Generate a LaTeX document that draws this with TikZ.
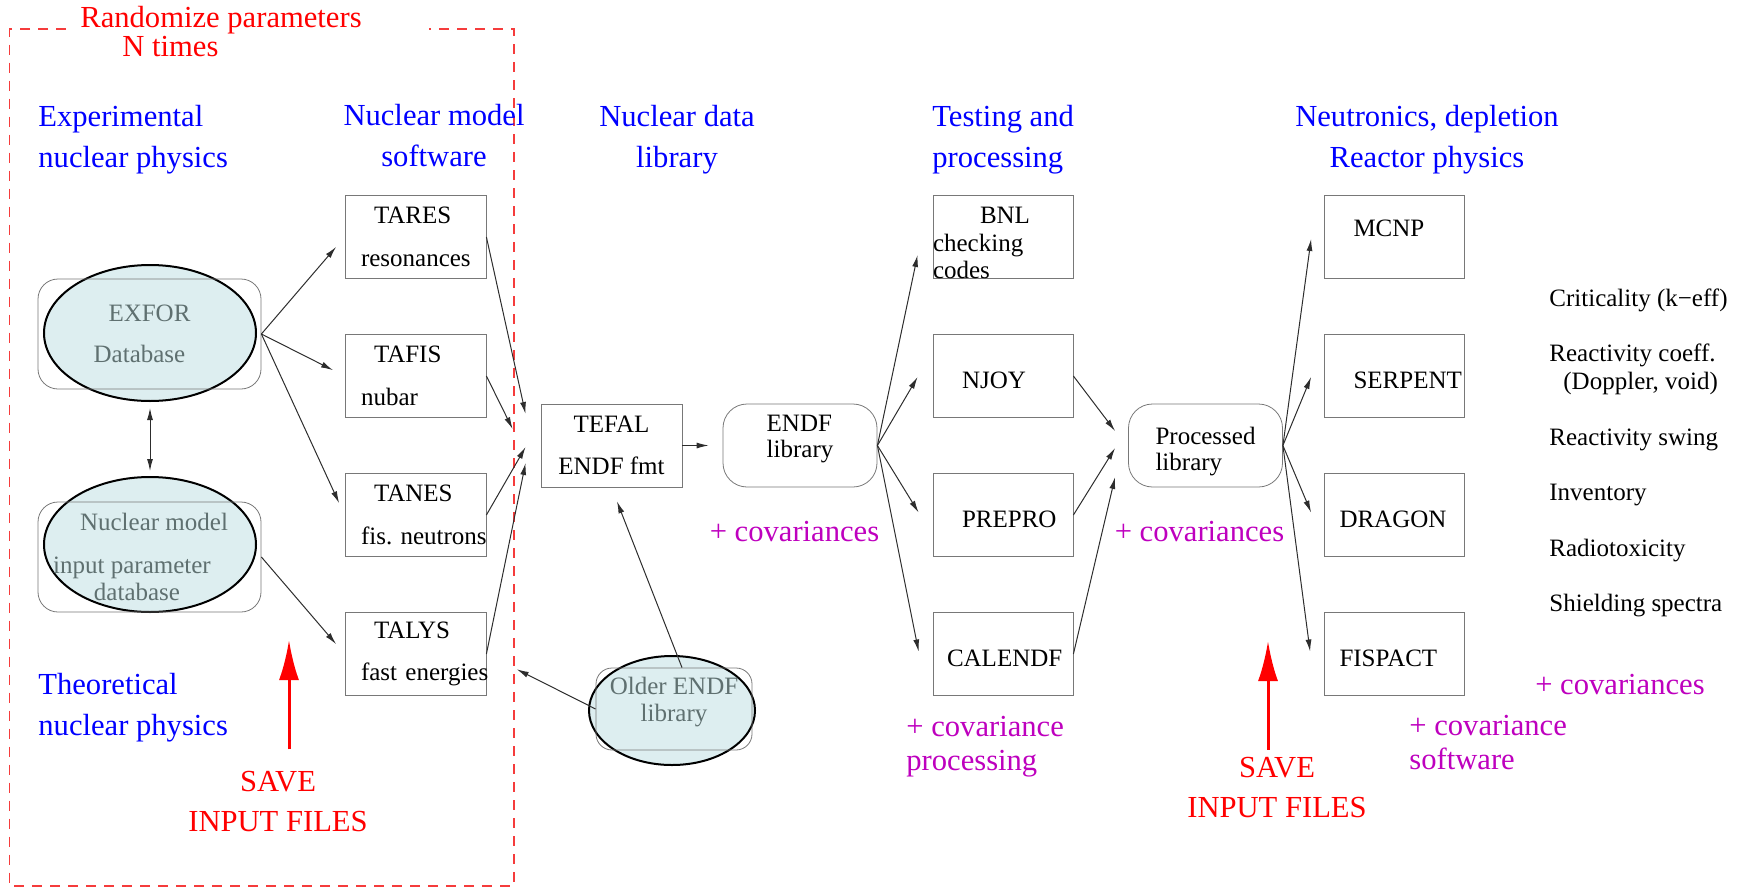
\documentclass[tikz,border=0pt]{standalone}
\usepackage{fontspec}
\setmainfont{Liberation Serif}
\usepackage{xcolor}
\usepackage{tikz}
\usetikzlibrary{shapes.geometric,arrows.meta}
\usetikzlibrary{positioning,calc}
\definecolor{boxgray}{RGB}{120,120,120}
\definecolor{arrgray}{RGB}{45,45,45}
\definecolor{dbfill}{RGB}{221,238,240}
\definecolor{dbtext}{RGB}{95,112,112}
\definecolor{covcol}{RGB}{190,0,190}
\definecolor{loopred}{RGB}{245,60,60}
\newcommand{\bigtxt}{\fontsize{15.3}{20.5}\selectfont}
\newcommand{\smalltxt}{\fontsize{12.5}{14}\selectfont}

\begin{document}
\begin{tikzpicture}[x=0.5pt, y=-0.5pt, node distance=69.5pt, >={Latex[length=6pt,width=3pt]},
    heading/.style={text=blue, font=\bigtxt, inner sep=0pt},
    covtext/.style={text=covcol, font=\fontsize{15.3}{17}\selectfont, inner sep=0pt},
    savetext/.style={text=red, font=\fontsize{15.3}{20}\selectfont, align=center, inner sep=0pt},
    result/.style={font=\smalltxt, inner sep=0pt},
    modbox/.style={draw=boxgray, minimum width=70.5pt, minimum height=41.5pt, text width=54.5pt, inner xsep=8pt, align=left, font=\fontsize{12.5}{21.25}\selectfont},
    prog/.style={draw=boxgray, minimum width=70pt, minimum height=41.5pt, text width=70pt, inner xsep=0pt, align=left, font=\smalltxt, text height=12.8pt, text depth=0pt},
    libbox/.style={draw=boxgray, rounded corners=12pt, minimum width=77pt, minimum height=41.5pt, align=left, font=\fontsize{12.5}{13.2}\selectfont},
    dbell/.style={ellipse, draw=black, line width=1pt, fill=dbfill, inner sep=0pt},
    dbbox/.style={draw=boxgray, rounded corners=10pt, align=center, text=dbtext, inner sep=2pt, font=\fontsize{12.5}{20.7}\selectfont},
    flow/.style={->, draw=arrgray, line width=0.5pt},
    savearrow/.style={-{Latex[length=20pt,width=10pt]}, draw=red, line width=1.5pt}]
    \useasboundingbox (0,0) rectangle (1744,888);

    \draw[loopred, line width=0.7pt, dash pattern=on 5pt off 4pt] (66,29) -- (9.6,29) -- (9.6,886) -- (514,886) -- (514,29) -- (429,29);
    \node[text=red, font=\fontsize{15.3}{14.5}\selectfont, align=left, anchor=west, inner sep=0pt] (randomize) at (80,32) {Randomize parameters\\\hspace*{21pt}N times};

    \node[heading, anchor=west, align=left] (hexp) at (38,139.5) {Experimental\\nuclear physics};
    \node[heading, align=center] (hmodel) at (434,136) {Nuclear model\\software};
    \node[heading, align=center] (hdata) at (677,139.5) {Nuclear data\\library};
    \node[heading, anchor=west, align=left] (htest) at (932,139.5) {Testing and\\processing};
    \node[heading, align=center] (hreact) at (1427,139.5) {Neutronics, depletion\\Reactor physics};
    \node[heading, anchor=west, align=left] (htheo) at (38,708) {Theoretical\\nuclear physics};

    \node[dbell, minimum width=106pt, minimum height=68pt] (exforE) at (150,333) {};
    \node[dbbox, minimum width=111.5pt, minimum height=55pt] (exfor) at (149.5,334) {EXFOR\\Database\hspace*{10pt}};
    \node[dbell, minimum width=106pt, minimum height=67.5pt] (nmdE) at (150,544.5) {};
    \node[dbbox, minimum width=111.5pt, minimum height=55pt, font=\fontsize{12.5}{13.3}\selectfont] (nmd) at (149.5,557) {\hspace*{4.5pt}Nuclear model\\[8.4pt]input parameter\hspace*{17.5pt}\null\\database\hspace*{12.5pt}};
    \node[dbell, minimum width=83pt, minimum height=54.5pt] (olderE) at (672,710.5) {};
    \node[dbbox, minimum width=78pt, minimum height=41pt, rounded corners=8pt, text depth=9.5pt, font=\fontsize{12.5}{13.7}\selectfont] (older) at (674,709) {Older ENDF\\library};

    \node[modbox] (tares) at (415.5,237) {\hspace*{6.5pt}TARES\\\mbox{resonances}};
    \node[modbox, below of=tares] (tafis) {\hspace*{6.5pt}TAFIS\\\mbox{nubar}};
    \node[modbox, below of=tafis] (tanes) {\hspace*{6.5pt}TANES\\\mbox{fis.\ neutrons}};
    \node[modbox, below of=tanes] (talys) {\hspace*{6.5pt}TALYS\\\mbox{fast energies}};

    \node[draw=boxgray, minimum width=70.5pt, minimum height=41.5pt, align=center, font=\fontsize{12.5}{21}\selectfont] (tefal) at (611.5,445.5) {TEFAL\\ENDF fmt};
    \node[libbox, text depth=9pt] (endf) at (800,445.5) {ENDF\\library};

    \node[draw=boxgray, minimum width=70pt, minimum height=41.5pt, text width=70pt, inner xsep=0pt, inner ysep=0pt, text height=14.3pt, text depth=27.5pt, align=left, font=\fontsize{12.5}{13.75}\selectfont] (bnl) at (1003,237) {\hspace*{23.5pt}BNL\\checking\\codes};
    \node[prog, below of=bnl] (njoy) {\hspace*{14.5pt}NJOY};
    \node[prog, below of=njoy] (prepro) {\hspace*{14.5pt}PREPRO};
    \node[prog, below of=prepro] (calendf) {\hspace*{7pt}CALENDF};

    \node[libbox, text height=28pt] (proc) at (1205.5,445.5) {Processed\\library};

    \node[prog, text height=8.3pt, text depth=9pt] (mcnp) at (1394.5,237) {\hspace*{14.5pt}MCNP};
    \node[prog, below of=mcnp] (serpent) {\hspace*{14.5pt}SERPENT};
    \node[prog, below of=serpent] (dragon) {\hspace*{7.5pt}DRAGON};
    \node[prog, below of=dragon] (fispact) {\hspace*{7.5pt}FISPACT};

    \node[result, anchor=base west] (crit) at (1549,306.8) {Criticality (k−eff)};
    \node[result, anchor=west, align=left] (coeff) at (1549,369.7) {Reactivity coeff.\\\hspace*{7pt}(Doppler, void)};
    \node[result, anchor=base west] (swing) at (1549,445) {Reactivity swing};
    \node[result, anchor=base west] (inventory) at (1549,500.4) {Inventory};
    \node[result, anchor=base west] (radiotox) at (1549,556.8) {Radiotoxicity};
    \node[result, anchor=base west] (shielding) at (1549,611.4) {Shielding spectra};

    \node[covtext, anchor=base] (cov1) at (794.5,541.7) {+ covariances};
    \node[covtext, anchor=base] (cov2) at (1199.5,541.7) {+ covariances};
    \node[covtext, anchor=base] (cov3) at (1620,694) {+ covariances};
    \node[covtext, anchor=west, align=left] (covproc) at (906,747) {+ covariance\\processing};
    \node[covtext, anchor=west, align=left] (covsoft) at (1409,743) {+ covariance\\software};

    \node[savetext] (save1) at (278,802) {SAVE\\INPUT FILES};
    \node[savetext] (save2) at (1277,788) {SAVE\\INPUT FILES};
    \coordinate (up1) at (289,640);
    \coordinate (up2) at (1268,641);
    \draw[savearrow, shorten <=11pt] (save1.north -| up1) -- (up1);
    \draw[savearrow, shorten <=3.7pt] (save2.north -| up2) -- (up2);

    \draw[flow, <->, shorten <=3pt, shorten >=2.5pt] (exforE.south) -- (nmdE.north);
    \draw[flow, shorten >=6.5pt] (exfor.east) -- (tares.west);
    \draw[flow, shorten >=6.5pt] (exfor.east) -- (tafis.west);
    \draw[flow, shorten >=6.5pt] (exfor.east) -- (tanes.west);
    \draw[flow, shorten >=6.5pt] (nmd.east) -- (talys.west);
    \draw[flow] (tares.east) -- ($(tefal.west)+(-15,-31.5)$);
    \draw[flow] (tafis.east) -- ($(tefal.west)+(-28,-16.5)$);
    \draw[flow] (tanes.east) -- ($(tefal.west)+(-15,1.5)$);
    \draw[flow] (talys.east) -- ($(tefal.west)+(-15,17.5)$);
    \draw[flow, shorten >=17pt] (older.west) -- (talys.east);
    \draw[flow, shorten >=7.5pt] ([xshift=4pt]older.north) -- (tefal.south);
    \draw[flow, shorten >=7pt] (tefal) -- (endf);
    \draw[flow] (endf.east) -- ($(bnl.west)+(-15,18)$);
    \draw[flow] (endf.east) -- ($(njoy.west)+(-15,1)$);
    \draw[flow] (endf.east) -- ($(prepro.west)+(-14,-2.5)$);
    \draw[flow] (endf.east) -- ($(calendf.west)+(-14,-2.5)$);
    \draw[flow] (njoy.east) -- ($(proc.west)+(-13,-14.5)$);
    \draw[flow] (prepro.east) -- ($(proc.west)+(-13,2.5)$);
    \draw[flow] (calendf.east) -- ($(proc.west)+(-13,31.5)$);
    \draw[flow] (proc.east) -- ($(mcnp.west)+(-13,2)$);
    \draw[flow] (proc.east) -- ($(serpent.west)+(-13,1)$);
    \draw[flow] (proc.east) -- ($(dragon.west)+(-13,-2.5)$);
    \draw[flow] (proc.east) -- ($(fispact.west)+(-14,-2.5)$);
\end{tikzpicture}
\end{document}
